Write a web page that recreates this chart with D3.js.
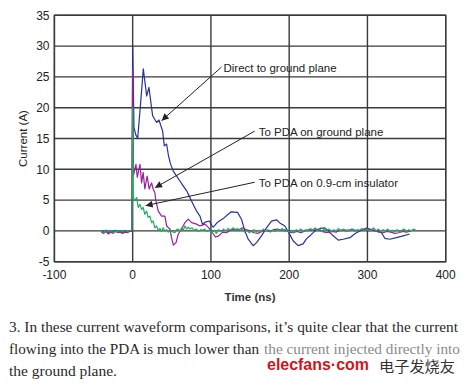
<!DOCTYPE html>
<html>
<head>
<meta charset="utf-8">
<script src="https://cdn.jsdelivr.net/npm/d3@7"></script>
<style>
  html, body { margin: 0; padding: 0; background: #ffffff; }
  svg { display: block; }
</style>
</head>
<body>
<div id="chart"></div>
<script>
// Current waveforms (t in ns, current in A)
const directToPlane = [
  [-40, 0], [-37, -0.2], [-34, 0.1], [-31, -0.3], [-28, 0], [-25, -0.2], [-22, 0.1], [-19, -0.2],
  [-16, 0], [-13, -0.3], [-10, -0.1], [-7, -0.2], [-4, 0], [-1, 0.1],
  [0, 30], [1.7, 16.8], [4, 15.6], [6.4, 15], [10, 20.5], [13.6, 26.3], [17.9, 21.9], [20.8, 23.3],
  [25.5, 18.7], [30.6, 17.6], [33.6, 18.0], [38.3, 16.2], [40.4, 13.8], [43.4, 14.1], [45.5, 12.4],
  [48, 11], [51.9, 9.7], [56.2, 8.9], [60.4, 8.1], [64.6, 7.3], [69, 6.5], [73.2, 5.4], [77.4, 4.3],
  [81.7, 3.2], [86, 2.4], [89.4, 1.0], [92.4, 1.4], [95, 1.5], [98, 1.6], [101, 0.9], [103, 0.6],
  [108, 1.35], [115.7, 2.0], [122, 2.7], [126, 3.1], [134, 3.0], [139, 1.9], [143.4, 0],
  [147.6, -1.35], [154, -2.4], [158.3, -1.9], [164.6, -0.8], [171, 0.5], [177.4, 1.6], [183.8, 1.8],
  [188, 1.3], [194.5, 0.8], [200, -0.4], [205, -1.6], [211.4, -2.4], [217.8, -2.1], [222, -1.3],
  [226.6, -0.8], [232.9, 0.0], [239.3, 0.4], [245.7, 0.5], [249.9, 0], [256.3, -0.8], [262.7, -1.5],
  [269, -1.35], [277.6, -1.1], [283.9, -0.45], [290.3, 0], [298.8, 0.45], [303, 0.3], [311.6, 0],
  [318, -0.3], [322.2, -1.2], [328.6, -1.35], [337, -1.1], [345.6, -0.8], [354, -0.5]
];

const pdaOnPlane = [
  [-40, -0.2], [-37, -0.4], [-34, -0.1], [-31, -0.5], [-28, -0.2], [-25, -0.4], [-22, -0.1],
  [-19, -0.3], [-16, -0.2], [-13, -0.4], [-10, -0.2], [-7, -0.3], [-4, -0.1], [-1, -0.1],
  [0, 26.5], [1, 9], [4.2, 10.8], [5.9, 8.7], [9.3, 10.8], [11.4, 7.8], [13.4, 9.5], [15.6, 6.8],
  [18.5, 8.9], [21.1, 6.8], [24.2, 7.8], [26.2, 6.8], [28.4, 6.2], [29.6, 4.9], [32.7, 3.2],
  [37, 2.4], [41.2, 2.4], [43.4, 0.8], [47.6, 0.3], [49.7, -1.1], [52, -2.3], [55.4, -1.9],
  [58.3, -0.5], [62.6, 0.3], [66.8, 1.35], [71, 1.9], [75.3, 1.35], [81.7, 1.1], [86, 0.8],
  [92.4, 1.1], [98, 0.4], [102, -0.3], [106, -1.0], [110, -0.8], [115, -0.2], [120, -0.3],
  [125, 0.1], [130, 0.3], [135, 0.1], [140, 0.5], [145, 0.2], [150, 0], [155, -0.3], [160, -0.4],
  [165, -0.1], [170, 0.1], [175, -0.1], [180, 0.2], [185, 0.3], [190, 0.1], [195, 0.2], [200, -0.2],
  [205, -0.3], [210, -0.1], [215, -0.3], [220, 0], [225, 0.2], [230, 0.1], [235, 0.3], [240, 0],
  [245, -0.2], [250, -0.3], [255, -0.1], [260, -0.2], [265, 0.1], [270, 0.2], [275, 0],
  [280, 0.3], [285, 0.1], [290, 0], [295, 0.2], [300, 0.4], [305, 0.1], [310, 0], [315, -0.2],
  [320, -0.3], [325, -0.1], [330, -0.2], [335, -0.4], [340, -0.3], [345, -0.1], [350, -0.2], [355, 0]
];

const pdaOnInsulator = [
  [-40, 0], [-37, -0.3], [-34, 0.1], [-31, -0.2], [-28, 0.1], [-25, -0.3], [-22, 0], [-19, -0.2],
  [-16, 0.1], [-13, -0.2], [-10, 0.1], [-7, -0.1], [-4, 0], [-1, 0.1],
  [0, 20], [0.8, 5.4], [2.9, 4.9], [5.1, 5.4], [7.2, 3.8], [9.3, 4.3], [11.4, 3.5], [13.4, 3.8],
  [15.6, 2.7], [17.8, 3.2], [19.8, 2.2], [22, 2.4], [24.2, 1.35], [26.2, 1.6], [28.4, 0.5],
  [30.5, 0.8], [32.7, 0.1], [34.9, 0.4], [37, -0.1], [39, 0.5], [41, 0], [43.4, 0.2], [45.5, -0.2],
  [47.6, 0.3], [50, -0.1], [54, -0.3], [56, 0.2], [58.3, 0.3], [60.5, -0.1], [62.6, 0.5],
  [64.7, 0.1], [66.8, 0.8], [69, 0.3], [71, 0.6], [73.2, 0.3], [76, 0.5], [78.5, 0.1], [81.7, 0.3],
  [84, -0.1], [87, 0.2], [90, 0.1],
  [92, 0.3], [95, -0.1], [98, 0.2], [101, -0.3], [104, 0.1], [107, -0.4], [110, 0.2], [113, -0.1],
  [116, 0.3], [119, 0], [122, 0.4], [125, 0.1], [128, 0.5], [131, 0.2], [134, 0.4], [137, 0],
  [140, 0.3], [143, -0.2], [146, 0.1], [149, -0.3], [152, 0], [155, 0.2], [158, -0.2], [161, 0.1],
  [164, -0.1], [167, 0.3], [170, 0], [173, 0.2], [176, -0.2], [179, 0.1], [182, -0.1], [185, 0.3],
  [188, 0], [191, 0.4], [194, -0.1], [197, 0.2], [200, -0.2], [203, 0.1], [206, -0.3], [209, 0.2],
  [212, 0], [215, 0.3], [218, -0.1], [221, 0.2], [224, 0], [227, 0.4], [230, 0.1], [233, 0.5],
  [236, 0], [239, 0.3], [242, -0.1], [245, 0.4], [248, 0.1], [251, 0.3], [254, -0.1], [257, 0.2],
  [260, 0], [263, 0.4], [266, 0], [269, 0.3], [272, -0.1], [275, 0.2], [278, 0], [281, 0.3],
  [284, -0.1], [287, 0.2], [290, 0.1], [293, 0.4], [296, 0], [299, 0.3], [302, -0.1], [305, 0.2],
  [308, 0.5], [311, 0], [314, 0.3], [317, -0.1], [320, 0.2], [323, 0], [326, 0.3], [329, -0.2],
  [332, 0.1], [335, -0.1], [338, 0.2], [341, -0.2], [344, 0.1], [347, 0.3], [350, -0.1], [353, 0.2],
  [356, 0], [359, 0.3], [362, 0.1]
];

const xTicks = [-100, 0, 100, 200, 300, 400];
const yTicks = [-5, 0, 5, 10, 15, 20, 25, 30, 35];

// label text, label anchor (data units), arrow start and arrow tip (data units)
const annotations = [
  { text: 'Direct to ground plane', at: [116, 26.5], from: [113.5, 26.6], to: [37, 17.9] },
  { text: 'To PDA on ground plane', at: [161, 16.1], from: [156, 16.2], to: [28.5, 7.0] },
  { text: 'To PDA on 0.9-cm insulator', at: [161, 7.8], from: [156, 7.9], to: [16.6, 4.1] }
];

const captionLines = [
  '3. In these current waveform comparisons, it\u2019s quite clear that the current',
  'flowing into the PDA is much lower than',
  'the ground plane.'
];
const captionFaded = 'the current injected directly into';

const width = 470, height = 385;
const plot = { left: 54.4, right: 445.7, top: 15.3, bottom: 261.7 };

const svg = d3.select('#chart').append('svg')
  .attr('width', width)
  .attr('height', height);

const x = d3.scaleLinear().domain([-100, 400]).range([plot.left, plot.right]);
const y = d3.scaleLinear().domain([-5, 35]).range([plot.bottom, plot.top]);

const gridColor = '#3a3a3a';
const labelFont = "'Liberation Sans', Arial, sans-serif";

// grid
svg.append('g').selectAll('line').data(yTicks).enter().append('line')
  .attr('x1', plot.left).attr('x2', plot.right)
  .attr('y1', d => y(d)).attr('y2', d => y(d))
  .attr('stroke', gridColor).attr('stroke-width', 1.4);

svg.append('g').selectAll('line').data(xTicks).enter().append('line')
  .attr('x1', d => x(d)).attr('x2', d => x(d))
  .attr('y1', plot.top).attr('y2', plot.bottom)
  .attr('stroke', gridColor).attr('stroke-width', 1.4);

// tick labels
svg.append('g').selectAll('text').data(yTicks).enter().append('text')
  .attr('x', 49.5).attr('y', d => y(d) + 4.3)
  .attr('text-anchor', 'end')
  .attr('font-family', labelFont).attr('font-size', 12).attr('fill', '#222')
  .text(d => d);

svg.append('g').selectAll('text').data(xTicks).enter().append('text')
  .attr('x', d => x(d)).attr('y', 278.5)
  .attr('text-anchor', 'middle')
  .attr('font-family', labelFont).attr('font-size', 12).attr('fill', '#222')
  .text(d => d);

// axis titles
svg.append('text')
  .attr('transform', `translate(27,${(plot.top + plot.bottom) / 2}) rotate(-90)`)
  .attr('text-anchor', 'middle')
  .attr('font-family', labelFont).attr('font-size', 11.5).attr('fill', '#222')
  .text('Current (A)');

svg.append('text')
  .attr('x', (plot.left + plot.right) / 2).attr('y', 300.5)
  .attr('text-anchor', 'middle')
  .attr('font-family', labelFont).attr('font-size', 11.5).attr('font-weight', 'bold').attr('fill', '#333')
  .text('Time (ns)');

// waveforms
const line = d3.line().x(d => x(d[0])).y(d => y(d[1]));
const series = [
  { data: directToPlane, color: '#27339b' },
  { data: pdaOnPlane, color: '#9c1e9c' },
  { data: pdaOnInsulator, color: '#1fad5c' }
];
svg.append('g').selectAll('path').data(series).enter().append('path')
  .attr('d', d => line(d.data))
  .attr('fill', 'none')
  .attr('stroke', d => d.color)
  .attr('stroke-width', 1.2)
  .attr('stroke-linejoin', 'round');

// annotations
svg.append('defs').append('marker')
  .attr('id', 'arrow')
  .attr('viewBox', '0 0 10 10')
  .attr('refX', 10).attr('refY', 5)
  .attr('markerWidth', 9).attr('markerHeight', 7)
  .attr('markerUnits', 'userSpaceOnUse')
  .attr('orient', 'auto')
  .append('path').attr('d', 'M0,0 L10,5 L0,10 Z').attr('fill', '#222');

const ann = svg.append('g').selectAll('g').data(annotations).enter().append('g');
ann.append('line')
  .attr('x1', d => x(d.from[0])).attr('y1', d => y(d.from[1]))
  .attr('x2', d => x(d.to[0])).attr('y2', d => y(d.to[1]))
  .attr('stroke', '#222').attr('stroke-width', 1)
  .attr('marker-end', 'url(#arrow)');
ann.append('text')
  .attr('x', d => x(d.at[0])).attr('y', d => y(d.at[1]) + 4)
  .attr('font-family', labelFont).attr('font-size', 11.5).attr('fill', '#222')
  .text(d => d.text);

// frame
svg.append('rect')
  .attr('x', plot.left).attr('y', plot.top)
  .attr('width', plot.right - plot.left).attr('height', plot.bottom - plot.top)
  .attr('fill', 'none').attr('stroke', gridColor).attr('stroke-width', 1.4);

// caption
const captionFont = "'Liberation Serif', 'Times New Roman', serif";
const cap = svg.append('g')
  .attr('font-family', captionFont).attr('font-size', 15).attr('fill', '#2a2a2a');
cap.append('text').attr('x', 9).attr('y', 331.5)
  .attr('textLength', 449).attr('lengthAdjust', 'spacingAndGlyphs')
  .text(captionLines[0]);
cap.append('text').attr('x', 9).attr('y', 354)
  .attr('textLength', 250).attr('lengthAdjust', 'spacingAndGlyphs')
  .text(captionLines[1]);
cap.append('text').attr('x', 264).attr('y', 354)
  .attr('textLength', 196).attr('lengthAdjust', 'spacingAndGlyphs')
  .attr('fill', '#8a8a8a')
  .text(captionFaded);
cap.append('text').attr('x', 9).attr('y', 376)
  .attr('textLength', 108).attr('lengthAdjust', 'spacingAndGlyphs')
  .text(captionLines[2]);

// watermark
svg.append('text')
  .attr('x', 267).attr('y', 369.5)
  .attr('textLength', 102).attr('lengthAdjust', 'spacingAndGlyphs')
  .attr('font-family', labelFont).attr('font-size', 16).attr('font-weight', 'bold')
  .attr('fill', '#d1141b')
  .text('elecfans\u00b7com');
svg.append('text')
  .attr('x', 379).attr('y', 372)
  .attr('textLength', 76).attr('lengthAdjust', 'spacingAndGlyphs')
  .attr('font-family', "'Noto Sans CJK SC', sans-serif").attr('font-size', 14.5)
  .attr('fill', '#333')
  .text('电子发烧友');
</script>
</body>
</html>
